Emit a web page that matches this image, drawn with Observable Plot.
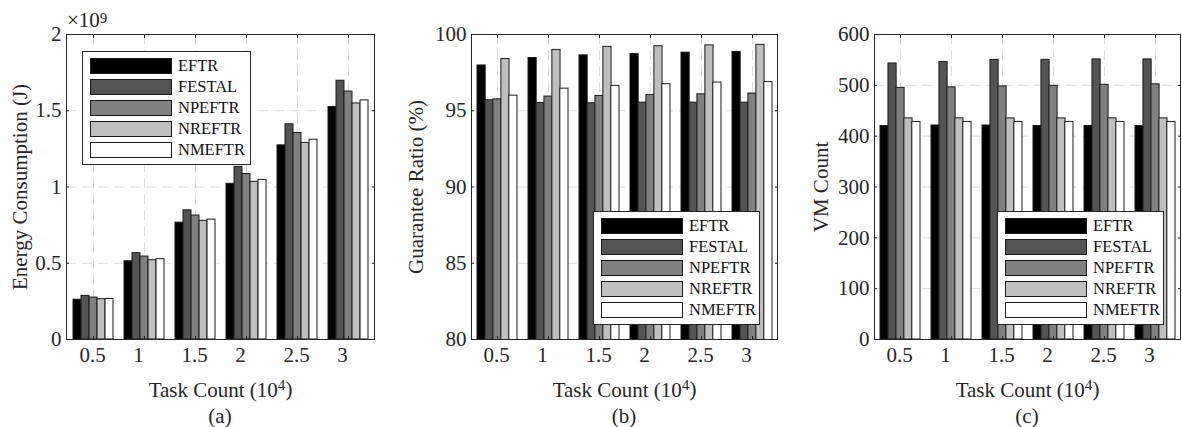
<!DOCTYPE html>
<html><head><meta charset="utf-8">
<script src="https://cdn.jsdelivr.net/npm/d3@7"></script>
<script src="https://cdn.jsdelivr.net/npm/@observablehq/plot@0.6"></script>
<style>
body{margin:0;background:#fff;font-family:"Liberation Serif",serif;color:#262626}
#root{position:relative;width:1182px;height:427px;overflow:hidden;background:#fff}
.panel{position:absolute;top:0;height:427px}
.panel svg{display:block}
.caption{position:absolute;top:404px;font-size:21px;line-height:24px;text-align:center}
.legend{position:absolute;background:#fff;border:1px solid #262626;box-sizing:border-box;padding:6px 7px}
.row{display:flex;align-items:center;height:16px;margin-bottom:5px;font-size:16.5px;color:#111}
.row:last-child{margin-bottom:0}
.sw{width:82px;height:16px;box-sizing:border-box;border:1.3px solid #1a1a1a;margin-right:6px;flex:none}
.expo{position:absolute;font-size:21px;line-height:22px;color:#262626;white-space:nowrap}
.expo sup{font-size:15px;position:relative;top:-2px;vertical-align:top}
</style></head><body><div id="root"></div><script>
const categories = ["0.5","1","1.5","2","2.5","3"];
const series = ["EFTR","FESTAL","NPEFTR","NREFTR","NMEFTR"];
const seriesColors = ["#000000","#545454","#808080","#bfbfbf","#ffffff"];

// (a) Energy consumption, in units of 10^9 J
const energyEFTR   = [0.261, 0.513, 0.766, 1.021, 1.273, 1.525];
const energyFESTAL = [0.286, 0.566, 0.847, 1.132, 1.411, 1.697];
const energyNPEFTR = [0.275, 0.544, 0.813, 1.085, 1.354, 1.626];
const energyNREFTR = [0.264, 0.520, 0.778, 1.034, 1.289, 1.548];
const energyNMEFTR = [0.266, 0.527, 0.786, 1.047, 1.310, 1.568];
const energyTicks = [0, 0.5, 1, 1.5, 2];

// (b) Guarantee ratio (%)
const ratioEFTR   = [97.97, 98.46, 98.63, 98.72, 98.81, 98.86];
const ratioFESTAL = [95.69, 95.51, 95.49, 95.53, 95.53, 95.53];
const ratioNPEFTR = [95.75, 95.93, 95.97, 96.04, 96.08, 96.13];
const ratioNREFTR = [98.39, 98.99, 99.19, 99.23, 99.29, 99.32];
const ratioNMEFTR = [95.99, 96.45, 96.63, 96.74, 96.85, 96.88];
const ratioTicks = [80, 85, 90, 95, 100];

// (c) VM count
const vmEFTR   = [420, 421, 421, 420, 420, 420];
const vmFESTAL = [543, 546, 550, 550, 551, 551];
const vmNPEFTR = [495, 496, 498, 499, 501, 502];
const vmNREFTR = [435, 435, 435, 435, 435, 435];
const vmNMEFTR = [428, 428, 428, 428, 428, 428];
const vmTicks = [0, 100, 200, 300, 400, 500, 600];

const xLabelBase = "Task Count (10";
const xLabelExp = "4";
const xLabel = xLabelBase + xLabelExp + ")";
const halfTicks = categories.filter(c => c.includes("."));
const intTicks = categories.filter(c => !c.includes("."));

const panels = [
  {left:0, width:395, ml:66, mr:21, values:[energyEFTR,energyFESTAL,energyNPEFTR,energyNREFTR,energyNMEFTR],
   ticks:energyTicks, yLabel:"Energy Consumption (J)", labelOffset:54, caption:"(a)",
   legend:{left:82, top:51, width:169}, expo:true},
  {left:395, width:395, ml:76, mr:13, values:[ratioEFTR,ratioFESTAL,ratioNPEFTR,ratioNREFTR,ratioNMEFTR],
   ticks:ratioTicks, yLabel:"Guarantee Ratio (%)", labelOffset:63, caption:"(b)",
   legend:{left:198, top:211, width:167}},
  {left:790, width:392, ml:84, mr:2, values:[vmEFTR,vmFESTAL,vmNPEFTR,vmNREFTR,vmNMEFTR],
   ticks:vmTicks, yLabel:"VM Count", labelOffset:61, caption:"(c)",
   legend:{left:207, top:211, width:167}}
];

const H = 400, MT = 34, MB = 61, FS = 21;
const root = document.getElementById("root");
const gridStyle = {stroke:"#dcdcdc", strokeOpacity:1, strokeDasharray:"10,6"};
const NS = "http://www.w3.org/2000/svg";

for (const cfg of panels) {
  const rows = [];
  cfg.values.forEach((vals, si) => vals.forEach((v, ci) => rows.push({cat: categories[ci], series: series[si], value: v})));
  const inner = cfg.width - cfg.ml - cfg.mr;
  const step = inner / categories.length;
  const bw = step * 0.78;
  const w = bw / series.length;
  const dom = [cfg.ticks[0], cfg.ticks[cfg.ticks.length - 1]];
  const fmt = d => String(d);
  const blank = () => "";
  const marks = [
    Plot.gridY({ticks: cfg.ticks, ...gridStyle}),
    Plot.gridX({...gridStyle}),
    ...series.map((s, i) => Plot.barY(rows.filter(r => r.series === s), {
      x: "cat", y: "value", fill: seriesColors[i], stroke: "#1a1a1a", strokeWidth: 1,
      insetLeft: i * w, insetRight: (series.length - 1 - i) * w, clip: true
    })),
    Plot.frame({stroke: "#262626"}),
    Plot.axisY({ticks: cfg.ticks, tickSize: 0, tickPadding: 5, tickFormat: fmt, fontSize: FS,
      label: cfg.yLabel, labelAnchor: "center", labelOffset: cfg.labelOffset, labelArrow: "none"}),
    Plot.axisY({anchor: "left", ticks: cfg.ticks, tickSize: -3, tickFormat: blank, label: null}),
    Plot.axisY({anchor: "right", ticks: cfg.ticks, tickSize: -3, tickFormat: blank, label: null}),
    Plot.axisX({ticks: halfTicks, tickSize: 0, tickPadding: 8, dx: -1, fontSize: FS,
      label: xLabel, labelAnchor: "center", labelOffset: 57}),
    Plot.axisX({ticks: intTicks, tickSize: 0, tickPadding: 8, dx: -6, fontSize: FS, label: null}),
    Plot.axisX({anchor: "bottom", tickSize: -3, tickFormat: blank, label: null}),
    Plot.axisX({anchor: "top", tickSize: -3, tickFormat: blank, label: null})
  ];
  const svg = Plot.plot({
    width: cfg.width, height: H,
    marginLeft: cfg.ml, marginRight: cfg.mr, marginTop: MT, marginBottom: MB,
    x: {domain: categories, paddingInner: 0.22, paddingOuter: 0.11},
    y: {domain: dom},
    style: {fontFamily: "'Liberation Serif', serif", fontSize: FS + "px", color: "#262626", background: "#fff", overflow: "visible"},
    marks
  });
  // render the exponent of the x label as a real superscript
  svg.querySelectorAll("text").forEach(t => {
    if (t.textContent === xLabel) {
      const target = t.querySelector("tspan") || t;
      while (target.firstChild) target.removeChild(target.firstChild);
      target.appendChild(document.createTextNode(xLabelBase));
      const sup = document.createElementNS(NS, "tspan");
      sup.setAttribute("dy", "-0.45em");
      sup.setAttribute("font-size", "0.72em");
      sup.textContent = xLabelExp;
      target.appendChild(sup);
      const close = document.createElementNS(NS, "tspan");
      close.setAttribute("dy", "0.32em");
      close.textContent = ")";
      target.appendChild(close);
    }
  });
  const div = document.createElement("div");
  div.className = "panel";
  div.style.left = cfg.left + "px";
  div.style.width = cfg.width + "px";
  div.appendChild(svg);

  const cap = document.createElement("div");
  cap.className = "caption";
  cap.style.left = cfg.ml + "px";
  cap.style.width = inner + "px";
  cap.textContent = cfg.caption;
  div.appendChild(cap);

  const lg = document.createElement("div");
  lg.className = "legend";
  lg.style.left = cfg.legend.left + "px";
  lg.style.top = cfg.legend.top + "px";
  lg.style.width = cfg.legend.width + "px";
  series.forEach((s, i) => {
    const r = document.createElement("div");
    r.className = "row";
    const sw = document.createElement("div");
    sw.className = "sw";
    sw.style.background = seriesColors[i];
    const t = document.createElement("span");
    t.textContent = s;
    r.appendChild(sw); r.appendChild(t);
    lg.appendChild(r);
  });
  div.appendChild(lg);

  if (cfg.expo) {
    const e = document.createElement("div");
    e.className = "expo";
    e.style.left = "67px";
    e.style.top = "9px";
    e.innerHTML = "×10<sup>9</sup>";
    div.appendChild(e);
  }
  root.appendChild(div);
}
</script></body></html>
